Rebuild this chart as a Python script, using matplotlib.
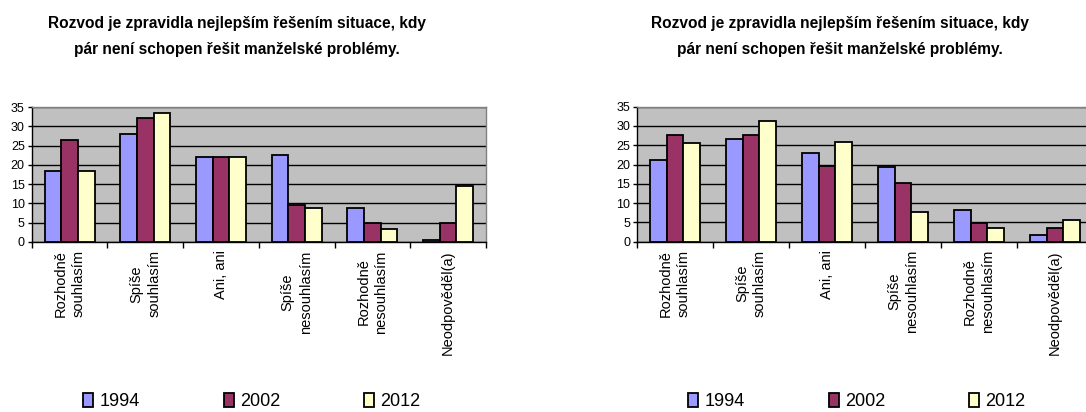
import matplotlib
matplotlib.use("Agg")
import matplotlib.pyplot as plt
import numpy as np

categories = ["Rozhodně\nsouhlasím", "Spíše\nsouhlasím", "Ani, ani",
              "Spíše\nnesouhlasím", "Rozhodně\nnesouhlasím", "Neodpověděl(a)"]
years = ["1994", "2002", "2012"]

left_1994 = [18.4, 28.0, 22.0, 22.6, 8.7, 0.6]
left_2002 = [26.4, 32.2, 22.0, 9.6, 5.0, 5.0]
left_2012 = [18.4, 33.4, 22.0, 8.7, 3.3, 14.5]

right_1994 = [21.2, 26.6, 22.9, 19.4, 8.2, 1.7]
right_2002 = [27.7, 27.7, 19.5, 15.1, 4.9, 3.5]
right_2012 = [25.7, 31.4, 25.9, 7.6, 3.5, 5.5]

title = "Rozvod je zpravidla nejlepším řešením situace, kdy\npár není schopen řešit manželské problémy."

colors = ["#9999FF", "#993366", "#FFFFCC"]

plt.rcParams["font.family"] = ["Liberation Sans", "DejaVu Sans"]

fig = plt.figure(figsize=(10.86, 4.12), dpi=100)


def draw(rect, series, title_x, legend_x):
    ax = fig.add_axes(rect)
    ax.set_facecolor("#C0C0C0")
    x = np.arange(len(categories))
    w = 0.22
    handles = []
    for i, (vals, c) in enumerate(zip(series, colors)):
        b = ax.bar(x + (i - 1) * w, vals, width=w, color=c, edgecolor="black",
                   linewidth=1.3, zorder=3, label=years[i])
        handles.append(b)
    ax.set_xlim(-0.5, len(categories) - 0.5)
    ax.set_ylim(0, 35)
    ax.set_yticks(range(0, 36, 5))
    ax.yaxis.grid(True, color="black", linewidth=1.0, zorder=1)
    ax.set_axisbelow(True)
    ax.set_xticks(np.arange(-0.5, len(categories), 1.0))
    ax.set_xticklabels([])
    ax.set_xticks(x, minor=True)
    ax.set_xticklabels(categories, minor=True, rotation=90, fontsize=10.5,
                       va="top", ha="center", linespacing=1.35)
    ax.tick_params(axis="x", which="minor", length=0, pad=6)
    ax.tick_params(axis="x", which="major", length=4, direction="out", width=1)
    ax.tick_params(axis="y", length=3, direction="out", labelsize=9, pad=2, width=1)
    for s in ["left", "bottom"]:
        ax.spines[s].set_color("black")
        ax.spines[s].set_linewidth(1.0)
    for s in ["top", "right"]:
        ax.spines[s].set_color("#808080")
        ax.spines[s].set_linewidth(1.0)
    fig.text(title_x, 0.912, title, ha="center", va="center", fontsize=11.2,
             fontweight="bold", linespacing=1.9)
    fig.legend(handles=handles, labels=years, loc="center",
               bbox_to_anchor=(legend_x, 0.025), ncol=3, frameon=False,
               handlelength=0.55, handleheight=0.75, handletextpad=0.35,
               columnspacing=4.65, prop={"size": 13})
    return ax


draw([31.7 / 1086, 1 - 242 / 412, 454.3 / 1086, 135 / 412],
     [left_1994, left_2002, left_2012], 0.218, 0.232)
draw([637 / 1086, 1 - 241.7 / 412, 456 / 1086, 135 / 412],
     [right_1994, right_2002, right_2012], 0.7735, 0.789)

fig.savefig("out.png", dpi=100)
